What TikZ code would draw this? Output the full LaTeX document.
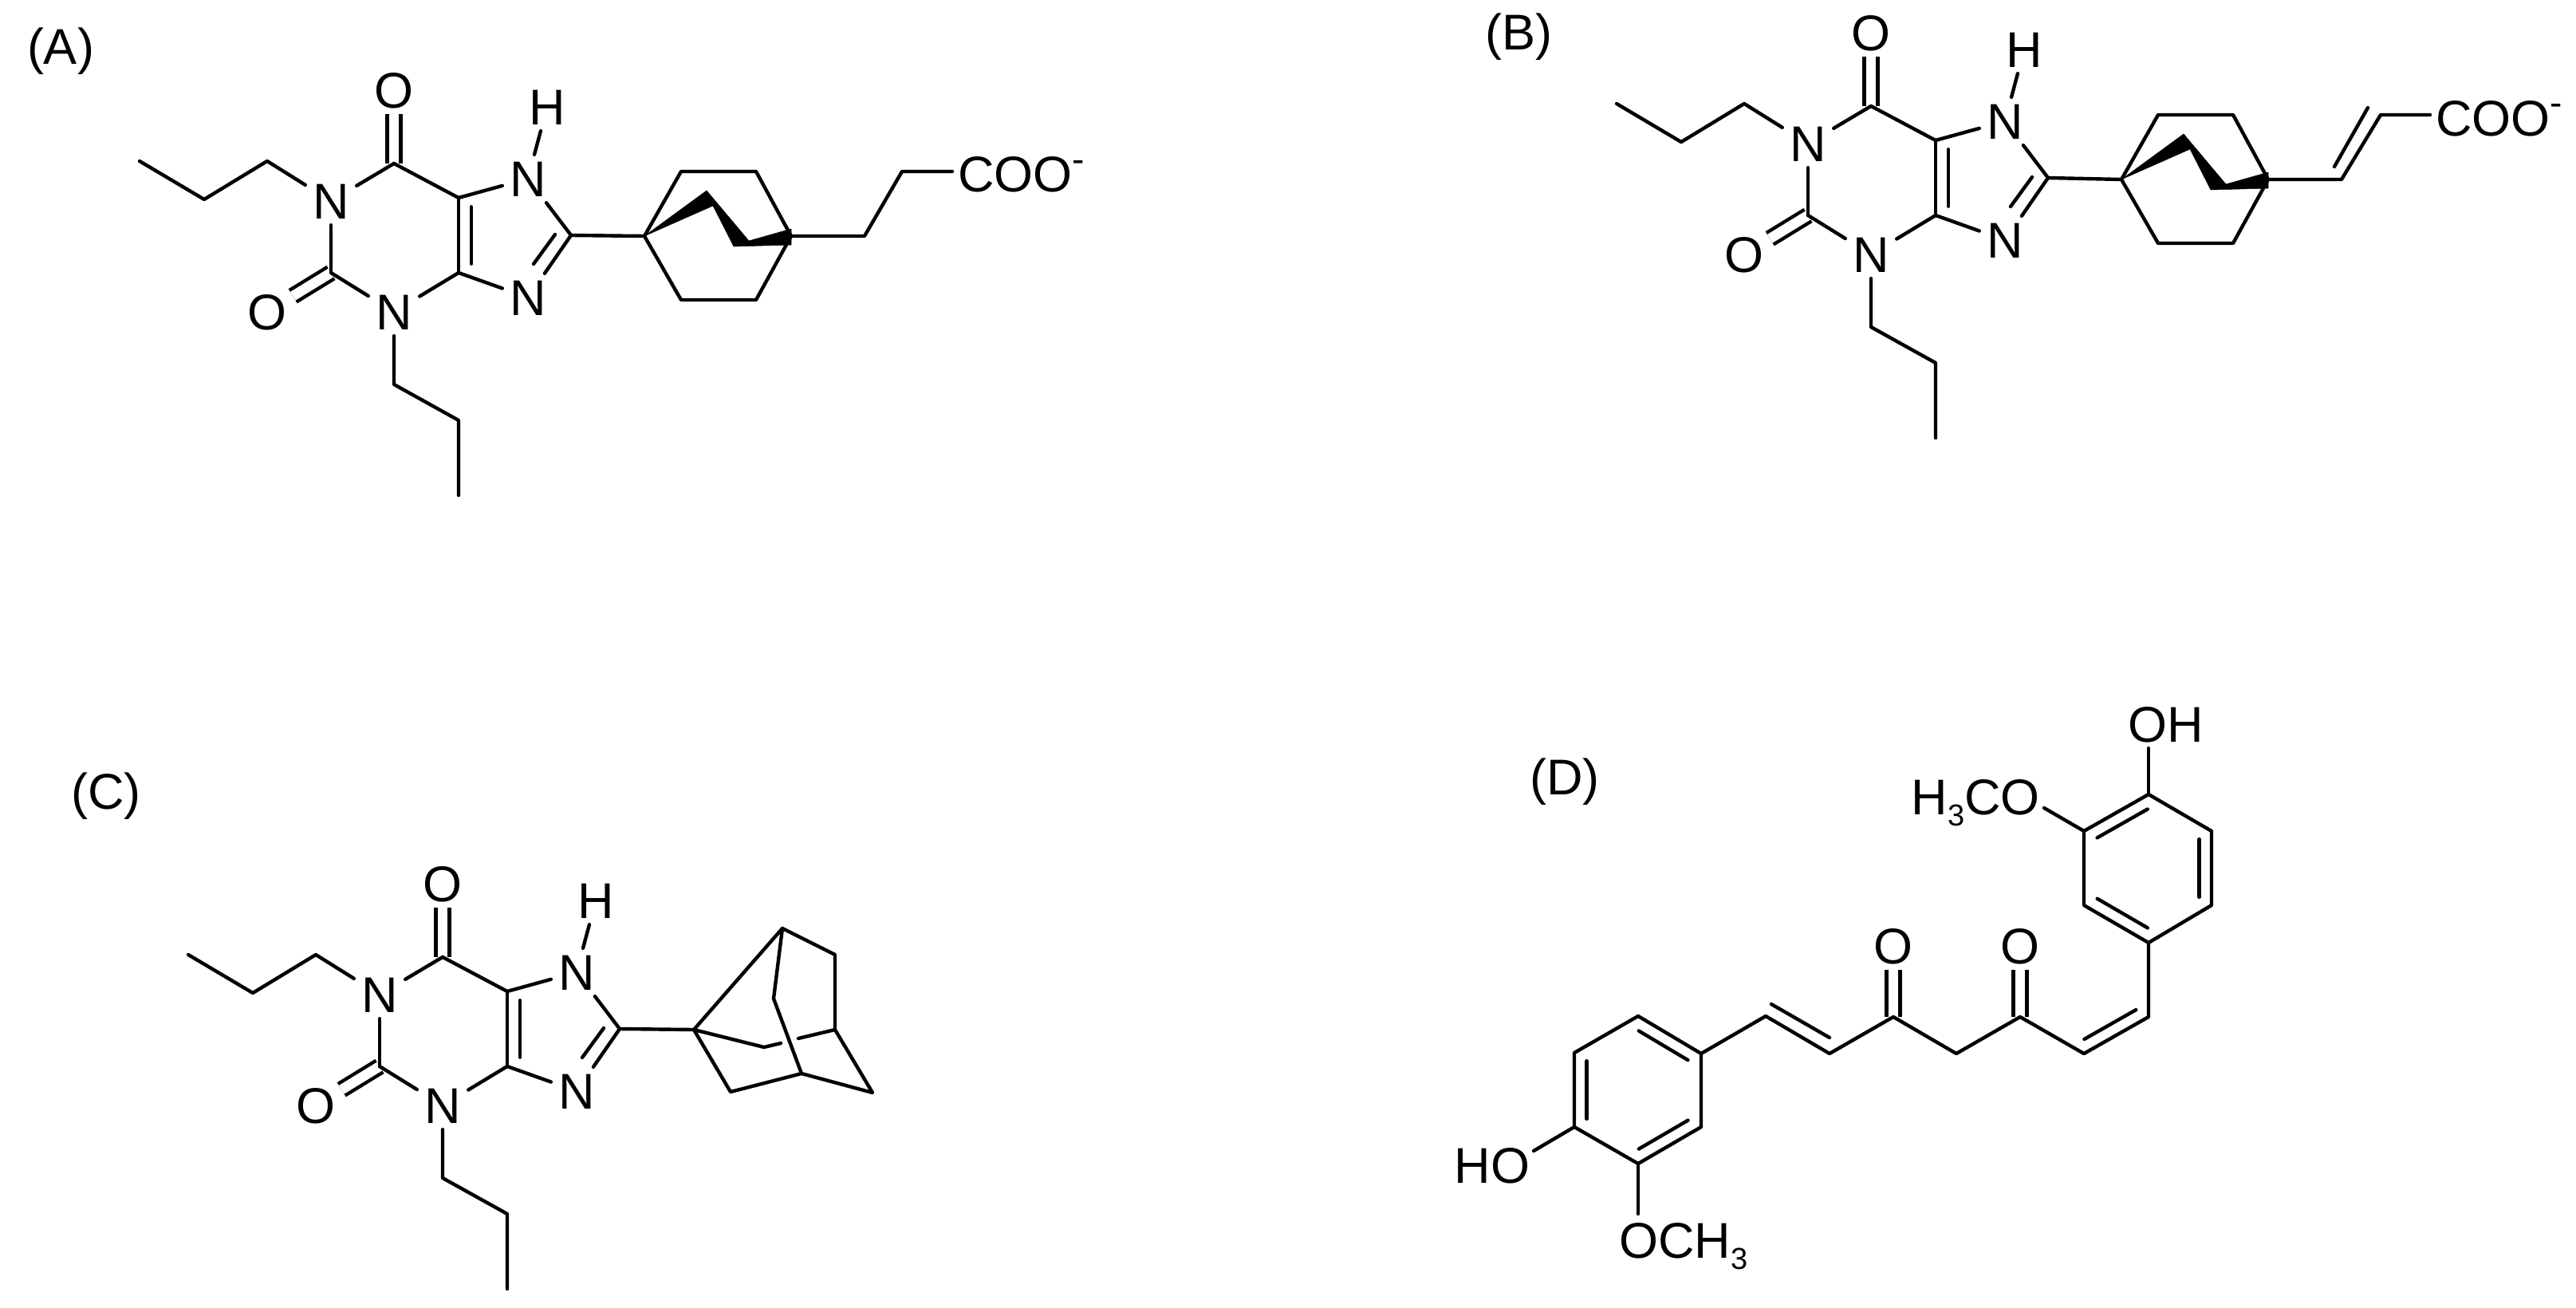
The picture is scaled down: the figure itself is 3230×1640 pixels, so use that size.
\documentclass[tikz,border=0pt]{standalone}
\usepackage{fontspec}
\setmainfont{Liberation Sans}
\usetikzlibrary{calc}
\tikzset{
  atom/.style={inner sep=0pt,minimum width=64pt,minimum height=60pt,text height=45pt,text depth=0pt},
  lab/.style={inner sep=0pt,text height=45pt,text depth=0pt},
  chem/.style={line width=4.4pt,line cap=round,line join=round},
  dbl/.style={line width=4.4pt,double,double distance=12.5pt,line cap=butt},
  wedgefill/.style={fill=black,draw=black,line width=.5pt,line join=round}
}
% inner line of a double bond, on the right-hand side of a -> b
\newcommand{\inbond}[4]{\draw[chem] ($(#1)!#3!(#2)!#4pt!-90:(#2)$) -- ($(#1)!1-#3!(#2)!#4pt!90:(#1)$);}
\newcommand{\minussup}{\raisebox{25.5pt}{\fontsize{46}{46}\selectfont -}}
\newcommand{\subthree}{\raisebox{-14pt}{\fontsize{38}{38}\selectfont 3}}
% xanthine core with two propyl groups
\newcommand{\xanth}[3]{%
\begin{scope}[shift={(#2,#3)}]
  \coordinate (#1p1) at (175,202); \coordinate (#1p2) at (256,250); \coordinate (#1p3) at (335,202);
  \coordinate (#1C6) at (494,205); \coordinate (#1C5) at (575,248); \coordinate (#1C4) at (575,342);
  \coordinate (#1C2) at (415,342); \coordinate (#1C8) at (716,295);
  \coordinate (#1q1) at (494,482); \coordinate (#1q2) at (575,527); \coordinate (#1q3) at (575,621);
  \coordinate (#1i1) at (696,294); \coordinate (#1i2) at (669,331);
  \node[atom] (#1N1) at (415,252) {N};
  \node[atom] (#1N3) at (494,391) {N};
  \node[atom] (#1N7) at (662,224) {N};
  \node[atom] (#1N9) at (662,373) {N};
  \node[atom] (#1H) at (686,134) {H};
  \node[atom] (#1O6) at (494,113) {O};
  \node[atom] (#1O2) at (335,391) {O};
  \draw[dbl] (#1C6) -- (#1O6);
  \draw[dbl] (#1C2) -- (#1O2);
  \draw[chem] (#1p1) -- (#1p2) -- (#1p3) -- (#1N1);
  \draw[chem] (#1N1) -- (#1C6);
  \draw[chem] (#1C6) -- (#1C5);
  \draw[chem] (#1C5) -- (#1C4);
  \draw[chem] (#1C4) -- (#1N3);
  \draw[chem] (#1N3) -- (#1C2);
  \draw[chem] (#1C2) -- (#1N1);
  \draw[chem] (#1N3) -- (#1q1) -- (#1q2) -- (#1q3);
  \draw[chem] (#1C5) -- (#1N7);
  \draw[chem] (#1N7) -- (#1C8);
  \draw[chem] (#1C8) -- (#1N9);
  \draw[chem] (#1N9) -- (#1C4);
  \draw[chem] (#1N7) -- (#1H);
  \draw[chem] (#1i1) -- (#1i2);
  \inbond{#1C4}{#1C5}{.12}{16}
\end{scope}}
% bicyclo[2.2.2]octane cage
\newcommand{\bicyc}[3]{%
\begin{scope}[shift={(#2,#3)}]
  \coordinate (#1J) at (808,296); \coordinate (#1K) at (992,296);
  \coordinate (#1tl) at (854,215); \coordinate (#1tr) at (948,215);
  \coordinate (#1bl) at (854,376); \coordinate (#1br) at (948,376);
  \draw[chem] (#1J) -- (#1tl) -- (#1tr) -- (#1K) -- (#1br) -- (#1bl) -- (#1J);
  \fill[wedgefill] (#1J) -- (886,239) -- (894,258) -- cycle;
  \fill[wedgefill] (886,239) -- (939,302) -- (920,309) -- (894,258) -- cycle;
  \fill[wedgefill] (920,309) -- (939,302) -- (992,287) -- (992,307) -- cycle;
\end{scope}}
\begin{document}
\begin{tikzpicture}[x=1pt,y=-1pt,every node/.style={font=\fontsize{63}{70}\selectfont}]
\useasboundingbox (0,0) rectangle (3230,1640);
\fill[white] (0,0) rectangle (3230,1640);
% labels
\node[lab] (labA) at (76,58) {(A)};
\node[lab] (labB) at (1904,40) {(B)};
\node[lab] (labC) at (133,992) {(C)};
\node[lab] (labD) at (1962,974) {(D)};

% ---------- A ----------
\xanth{a}{0}{0}
\bicyc{a}{0}{0}
\draw[chem] (aC8) -- (aJ);
\coordinate (at1) at (1084,296); \coordinate (at2) at (1131,215);
\node[lab,anchor=west,inner xsep=7pt] (acoo) at (1194,218) {COO\minussup};
\draw[chem] (aK) -- (at1) -- (at2) -- (acoo.west |- at2);

% ---------- B ----------
\xanth{b}{1852}{-72}
\bicyc{b}{1852}{-71}
\draw[chem] (bC8) -- (bJ);
\coordinate (bt1) at (2936,225); \coordinate (bt2) at (2985,144);
\coordinate (bi1) at (2927,209); \coordinate (bi2) at (2969,135);
\node[lab,anchor=west,inner xsep=7pt] (bcoo) at (3047,148) {COO\minussup};
\draw[chem] (bK) -- (bt1) -- (bt2) -- (bcoo.west |- bt2);
\draw[chem] (bi1) -- (bi2);

% ---------- C ----------
\xanth{c}{61}{995}
\coordinate (cJ) at (870,1291); \coordinate (cT) at (981,1164);
\coordinate (cTR) at (1047,1197); \coordinate (cR) at (1047,1291);
\coordinate (cBR) at (1094,1370); \coordinate (cBM) at (1005,1346);
\coordinate (cBL) at (916,1369); \coordinate (cI) at (970,1252);
\coordinate (cB) at (958,1313); \coordinate (cg1) at (979,1308); \coordinate (cg2) at (1001,1302);
\draw[chem] (cC8) -- (cJ);
\draw[chem] (cJ) -- (cT) -- (cTR) -- (cR) -- (cBR) -- (cBM) -- (cBL) -- (cJ);
\draw[chem] (cT) -- (cI) -- (cBM);
\draw[chem] (cJ) -- (cB) -- (cg1);
\draw[chem] (cg2) -- (cR);

% ---------- D ----------
\coordinate (d1) at (2054,1274); \coordinate (d2) at (2133,1321);
\coordinate (d3) at (2133,1413); \coordinate (d4) at (2054,1459);
\coordinate (d5) at (1974,1413); \coordinate (d6) at (1974,1320);
\coordinate (e1) at (2214,1274); \coordinate (e2) at (2294,1321);
\coordinate (e3) at (2374,1275); \coordinate (e4) at (2453,1321);
\coordinate (e5) at (2533,1275); \coordinate (e6) at (2613,1321);
\coordinate (e7) at (2694,1275);
\coordinate (f1) at (2694,1182); \coordinate (f2) at (2773,1135);
\coordinate (f3) at (2773,1042); \coordinate (f4) at (2694,996);
\coordinate (f5) at (2613,1042); \coordinate (f6) at (2613,1135);
\coordinate (ei1) at (2221,1259); \coordinate (ei2) at (2294,1301);
\node[atom] (dO1) at (2374,1186) {O};
\node[atom] (dO2) at (2533,1186) {O};
\node[lab] (dOH) at (2716,908) {OH};
\node[lab,anchor=east] (dMeO) at (2558,999) {H\subthree CO};
\node[lab] (dHO) at (1871,1461) {HO};
\node[lab,anchor=west] (dOMe) at (2030,1555) {OCH\subthree};
\coordinate (dOHe) at (2694,938); \coordinate (dMeOe) at (2563,1013);
\coordinate (dHOe) at (1923,1443); \coordinate (dOMee) at (2054,1522);
\draw[dbl] (e3) -- (dO1);
\draw[dbl] (e5) -- (dO2);
\draw[chem] (d1) -- (d2) -- (d3) -- (d4) -- (d5) -- (d6) -- (d1);
\draw[chem] (d2) -- (e1) -- (e2) -- (e3) -- (e4) -- (e5) -- (e6) -- (e7) -- (f1);
\draw[chem] (f1) -- (f2) -- (f3) -- (f4) -- (f5) -- (f6) -- (f1);
\draw[chem] (f4) -- (dOHe);
\draw[chem] (f5) -- (dMeOe);
\draw[chem] (d5) -- (dHOe);
\draw[chem] (d4) -- (dOMee);
\inbond{d1}{d2}{.11}{15.5}
\inbond{d3}{d4}{.11}{15.5}
\inbond{d5}{d6}{.11}{15.5}
\inbond{f3}{f2}{.11}{15.5}
\inbond{f5}{f4}{.11}{15.5}
\inbond{f1}{f6}{.11}{15.5}
\draw[chem] (ei1) -- (ei2);
\inbond{e7}{e6}{.1}{15.5}
\end{tikzpicture}
\end{document}
